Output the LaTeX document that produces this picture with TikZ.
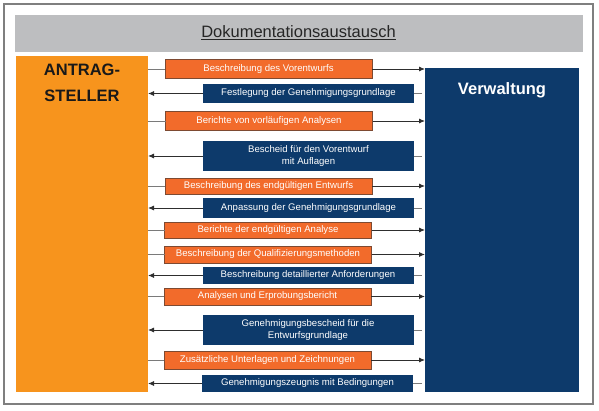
\documentclass[tikz,border=0pt]{standalone}
\usepackage{fontspec}
\setmainfont{Liberation Sans}
\usetikzlibrary{arrows.meta,positioning}
\definecolor{bandgray}{HTML}{BDBEC0}
\definecolor{applorange}{HTML}{F7941D}
\definecolor{docorange}{HTML}{F26B2B}
\definecolor{docborder}{HTML}{7D4A32}
\definecolor{adminblue}{HTML}{0D3A6B}
\definecolor{framegray}{HTML}{7F7F7F}
\definecolor{linedark}{HTML}{2E2E2E}
\definecolor{linegray}{HTML}{7A7A7A}

\begin{document}
\begin{tikzpicture}[x=1pt,y=-1pt,>={Latex[length=6pt,width=5pt]},
  box/.style={inner sep=0pt,outer sep=0pt,align=center,text=white,font=\fontsize{9.6}{12}\selectfont},
  todoc/.style={box,fill=docorange,draw=docborder,line width=0.7pt,minimum width=207pt,minimum height=#1},
  todoc/.default=18pt,
  fromdoc/.style={box,fill=adminblue,minimum width=211pt,minimum height=#1},
  fromdoc/.default=18pt,
  area/.style={inner sep=0pt,outer sep=0pt},
  stub/.style={draw=linegray,line width=0.9pt},
  msg/.style={draw=linedark,line width=0.9pt,->}]
  \useasboundingbox (0,0) rectangle (599,411);
  \draw[framegray,line width=1.2pt] (4,4) rectangle (593,404);

  % header and the two parties
  \node[area,fill=bandgray,minimum width=568pt,minimum height=37pt] (band) at (298.5,33.5) {};
  \node[anchor=base,font=\fontsize{16.5}{20}\selectfont,text=black!85] (title) at (298.5,37.5) {\underline{Dokumentationsaustausch}};
  \node[area,fill=applorange,minimum width=132pt,minimum height=336pt] (appl) at (82,224) {};
  \node[align=center,font=\bfseries\fontsize{16.5}{26}\selectfont,text=black!90] (appltxt) at (82,83) {ANTRAG-\\STELLER};
  \node[area,fill=adminblue,minimum width=154pt,minimum height=324pt] (admin) at (502,230) {};
  \node[font=\bfseries\fontsize{16.5}{20}\selectfont,text=white] (admintxt) at (502,90.5) {Verwaltung};

  % documents
  \node[todoc=19pt] (m1) at (268.5,69) {Beschreibung des Vorentwurfs};
  \node[fromdoc=19pt] (m2) at (308.5,93.5) {Festlegung der Genehmigungsgrundlage};
  \node[todoc=19pt] (m3) at (269,121) {Berichte von vorläufigen Analysen};
  \node[fromdoc=30pt] (m4) at (308.5,156) {Bescheid für den Vorentwurf\\mit Auflagen};
  \node[todoc=16pt] (m5) at (268.5,186) {Beschreibung des endgültigen Entwurfs};
  \node[fromdoc=20pt] (m6) at (308.5,208) {Anpassung der Genehmigungsgrundlage};
  \node[todoc=16pt] (m7) at (268,230) {Berichte der endgültigen Analyse};
  \node[todoc=17pt] (m8) at (268,254.5) {Beschreibung der Qualifizierungsmethoden};
  \node[fromdoc=17pt] (m9) at (308,275.5) {Beschreibung detaillierter Anforderungen};
  \node[todoc=17pt] (m10) at (267.5,296.5) {Analysen und Erprobungsbericht};
  \node[fromdoc=30pt] (m11) at (308,330) {Genehmigungsbescheid für die\\Entwurfsgrundlage};
  \node[todoc=18pt] (m12) at (267.5,360) {Zusätzliche Unterlagen und Zeichnungen};
  \node[fromdoc=17pt] (m13) at (307.5,383.5) {Genehmigungszeugnis mit Bedingungen};

  \foreach \m in {m1,m3,m5,m7,m8,m10,m12} {
    \path (appl.east |- \m) edge[stub] (\m.west)
          (\m.east) edge[msg] (admin.west |- \m);
  }
  \foreach \m in {m2,m4,m6,m9,m11,m13} {
    \path ([xshift=-3pt]admin.west |- \m) edge[stub] (\m.east)
          (\m.west) edge[msg] (appl.east |- \m);
  }
\end{tikzpicture}
\end{document}
